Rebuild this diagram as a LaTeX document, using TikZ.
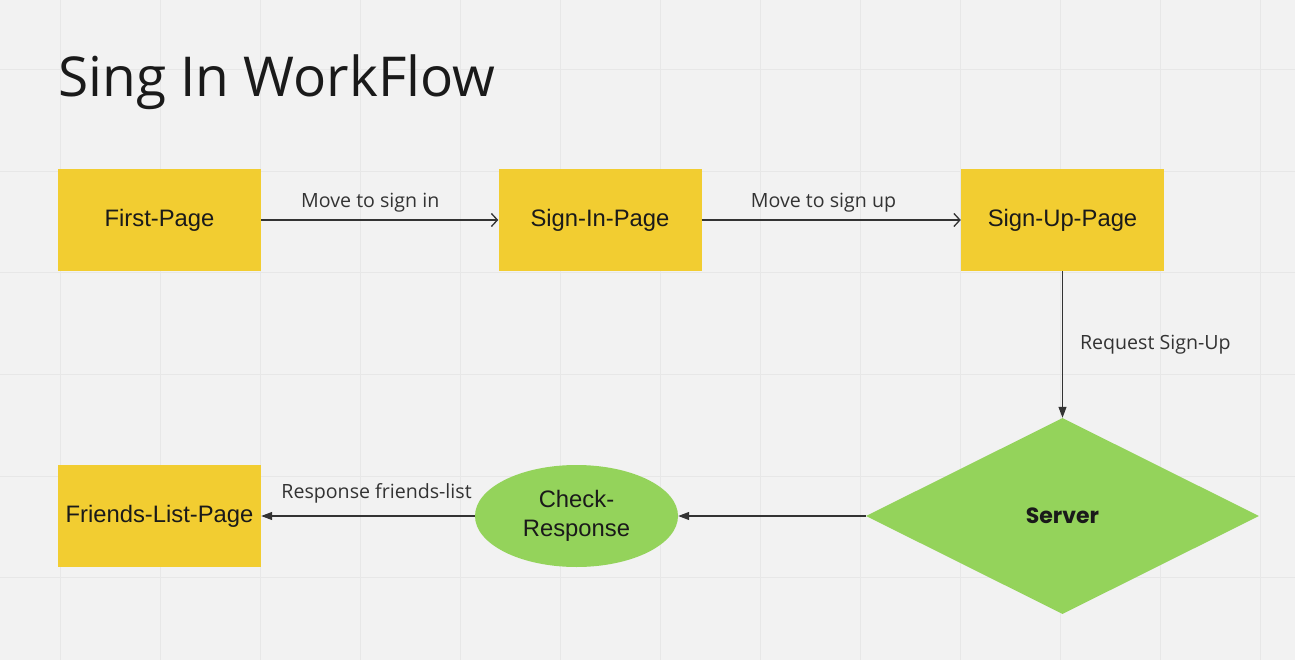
\documentclass[tikz,border=0pt]{standalone}
\usepackage{fontspec}
\setmainfont{Liberation Sans}
\newfontfamily\opensans{Open Sans}
\newfontfamily\poppins{Poppins}
\usetikzlibrary{arrows.meta,shapes.geometric}
\definecolor{bg}{HTML}{F2F2F2}
\definecolor{gridc}{HTML}{E7E7E7}
\definecolor{boxy}{HTML}{F2CD31}
\definecolor{boxg}{HTML}{94D35B}
\definecolor{linec}{HTML}{333333}
\definecolor{txt}{HTML}{1A1A1A}
\tikzset{
  pagebox/.style={fill=boxy, draw=none, minimum width=203pt, minimum height=102pt, inner sep=0pt, font=\fontsize{23.8}{28}\selectfont, text=txt},
  ellnode/.style={ellipse, fill=boxg, draw=none, minimum width=203pt, minimum height=102pt, inner sep=0pt, align=center, font=\fontsize{23.8}{29}\selectfont, text=txt},
  dianode/.style={diamond, fill=boxg, draw=none, minimum width=393pt, minimum height=196pt, inner sep=0pt, aspect=2, font=\poppins\bfseries\fontsize{22}{26}\selectfont, text=txt},
  openarrow/.style={draw=linec, line width=1.3pt, -{Straight Barb[length=6pt,width=13pt,line width=1.3pt]}},
  fillarrow/.style={draw=linec, line width=1.1pt, -{Triangle[length=11pt,width=8pt]}},
  elabel/.style={font=\opensans\fontsize{19.6}{23}\selectfont, text=linec, inner sep=0pt},
}
\begin{document}
\begin{tikzpicture}[x=1pt,y=-1pt]
\fill[bg] (0,0) rectangle (1295,660);
\useasboundingbox (0,0) rectangle (1295,660);
\foreach \i in {0,...,12} \draw[gridc, line width=1pt] (60+100*\i,0) -- (60+100*\i,660);
\foreach \j in {0,...,5} \draw[gridc, line width=1pt] (0,70+101.5*\j) -- (1295,70+101.5*\j);
\node[anchor=base west, font=\opensans\fontsize{55}{62}\selectfont, text=txt, inner sep=0pt] (title) at (58,97) {Sing In WorkFlow};
\node[pagebox] (first) at (159.5,220) {First-Page};
\node[pagebox] (signin) at (600,220) {Sign-In-Page};
\node[pagebox] (signup) at (1062.5,220) {Sign-Up-Page};
\node[pagebox] (friends) at (159.5,516) {Friends-List-Page};
\node[ellnode] (check) at (576.5,516) {Check-\\Response};
\node[dianode] (server) at (1062.5,516) {Server};
\draw[openarrow] (first) -- node[elabel, pos=0.46, above=7pt] (l1) {Move to sign in} (signin);
\draw[openarrow] (signin) -- node[elabel, pos=0.47, above=7pt] (l2) {Move to sign up} (signup);
\draw[fillarrow] (signup) -- node[elabel, pos=0.5, right=17pt] (l3) {Request Sign-Up} (server);
\draw[fillarrow] (server) -- (check);
\draw[fillarrow] (check) -- node[elabel, pos=0.46, above=12pt] (l4) {Response friends-list} (friends);
\end{tikzpicture}
\end{document}
